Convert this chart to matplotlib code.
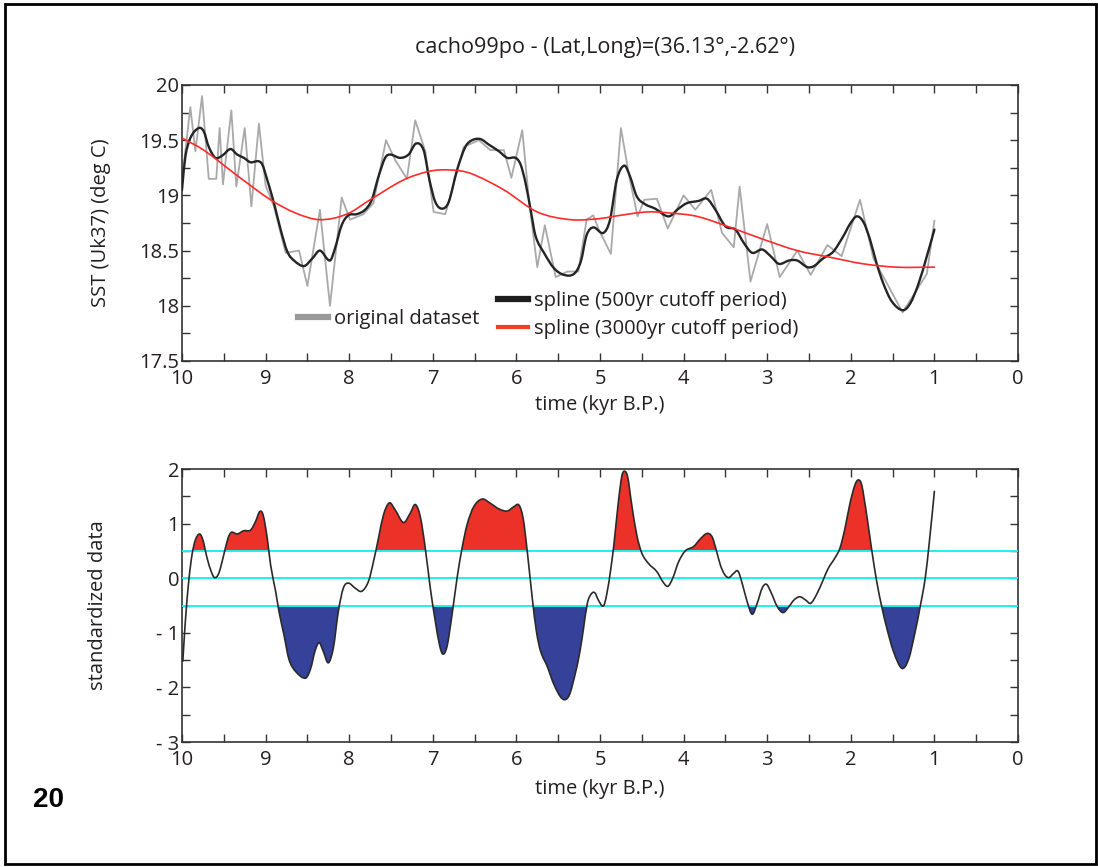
import matplotlib
matplotlib.use("Agg")
import matplotlib.pyplot as plt
from matplotlib.lines import Line2D
from matplotlib.patches import Rectangle, PathPatch
from matplotlib.path import Path
from matplotlib.ticker import MultipleLocator, FixedLocator, FixedFormatter
import numpy as np

plt.rcParams['font.family'] = ['Open Sans', 'DejaVu Sans']

# ---- SST record (core cacho99po) ----
orig_age = [10.00, 9.90, 9.84, 9.76, 9.68, 9.59, 9.55, 9.51, 9.41, 9.35, 9.25, 9.17,
            9.08, 9.00, 8.90, 8.76, 8.60, 8.50, 8.35, 8.23, 8.09, 7.99, 7.83, 7.71,
            7.56, 7.45, 7.31, 7.21, 7.09, 6.99, 6.85, 6.63, 6.45, 6.31, 6.15, 6.06,
            5.93, 5.85, 5.75, 5.66, 5.53, 5.39, 5.26, 5.16, 5.08, 5.02, 4.87, 4.75,
            4.65, 4.55, 4.47, 4.32, 4.19, 4.00, 3.86, 3.67, 3.54, 3.40, 3.33, 3.20,
            3.00, 2.85, 2.64, 2.48, 2.28, 2.11, 1.89, 1.73, 1.38, 1.09, 1.00]
orig_sst = [19.14, 19.80, 19.40, 19.90, 19.15, 19.15, 19.61, 19.10, 19.77, 19.08, 19.61, 18.90,
            19.65, 19.09, 18.90, 18.48, 18.50, 18.18, 18.87, 18.00, 18.98, 18.78, 18.83, 18.93,
            19.50, 19.32, 19.15, 19.68, 19.40, 18.85, 18.83, 19.44, 19.50, 19.41, 19.41, 19.16,
            19.59, 18.96, 18.35, 18.73, 18.26, 18.31, 18.31, 18.78, 18.82, 18.70, 18.47, 19.61,
            19.17, 18.81, 18.96, 18.97, 18.70, 19.00, 18.87, 19.05, 18.66, 18.53, 19.08, 18.22,
            18.74, 18.26, 18.50, 18.28, 18.55, 18.45, 18.96, 18.43, 17.94, 18.29, 18.77]

# spline, 500 yr cutoff
s500_age = [10.00, 9.96, 9.90, 9.80, 9.74, 9.68, 9.60, 9.52, 9.42, 9.34, 9.26, 9.18,
            9.09, 9.04, 8.98, 8.90, 8.82, 8.74, 8.66, 8.54, 8.44, 8.35, 8.23, 8.17,
            8.09, 8.01, 7.91, 7.81, 7.73, 7.65, 7.57, 7.51, 7.39, 7.29, 7.20, 7.11,
            7.04, 6.97, 6.89, 6.81, 6.71, 6.61, 6.53, 6.43, 6.33, 6.21, 6.11, 6.01,
            5.95, 5.89, 5.83, 5.77, 5.67, 5.55, 5.43, 5.31, 5.23, 5.16, 5.08, 4.96,
            4.88, 4.80, 4.71, 4.64, 4.56, 4.46, 4.34, 4.18, 4.06, 3.96, 3.82, 3.72,
            3.62, 3.50, 3.38, 3.28, 3.18, 3.06, 2.96, 2.86, 2.74, 2.64, 2.52, 2.44,
            2.33, 2.21, 2.09, 2.01, 1.93, 1.85, 1.77, 1.69, 1.61, 1.51, 1.38, 1.29,
            1.19, 1.09, 1.00]
s500_sst = [19.05, 19.35, 19.52, 19.61, 19.58, 19.44, 19.34, 19.36, 19.42, 19.37, 19.34, 19.30,
            19.31, 19.28, 19.14, 18.93, 18.69, 18.49, 18.41, 18.36, 18.43, 18.50, 18.41, 18.52,
            18.73, 18.82, 18.83, 18.87, 18.96, 19.17, 19.34, 19.37, 19.34, 19.37, 19.47, 19.41,
            19.14, 18.94, 18.88, 18.94, 19.23, 19.44, 19.50, 19.51, 19.46, 19.40, 19.34, 19.34,
            19.28, 19.11, 18.87, 18.63, 18.48, 18.34, 18.28, 18.29, 18.40, 18.64, 18.71, 18.66,
            18.78, 19.14, 19.27, 19.17, 18.99, 18.92, 18.88, 18.81, 18.88, 18.93, 18.95, 18.97,
            18.87, 18.72, 18.69, 18.57, 18.48, 18.51, 18.45, 18.38, 18.41, 18.41, 18.35, 18.36,
            18.43, 18.49, 18.63, 18.74, 18.81, 18.76, 18.60, 18.38, 18.20, 18.04, 17.96, 18.02,
            18.20, 18.45, 18.69]

# spline, 3000 yr cutoff
s3000_age = [10.00, 9.74, 9.34, 8.94, 8.64, 8.35, 8.03, 7.75, 7.35, 7.03, 6.79, 6.55,
             6.15, 5.75, 5.35, 5.00, 4.84, 4.44, 4.16, 3.84, 3.44, 3.04, 2.64, 2.25,
             1.85, 1.45, 1.00]
s3000_sst = [19.52, 19.41, 19.18, 18.96, 18.84, 18.78, 18.83, 18.96, 19.14, 19.22, 19.23, 19.20,
             19.05, 18.85, 18.78, 18.79, 18.81, 18.85, 18.84, 18.81, 18.71, 18.60, 18.50, 18.44,
             18.38, 18.35, 18.35]

# standardized anomaly series
std_age = [9.99, 9.96, 9.92, 9.88, 9.84, 9.79, 9.75, 9.70, 9.65, 9.61, 9.56, 9.50,
           9.45, 9.41, 9.34, 9.26, 9.18, 9.12, 9.07, 9.03, 8.98, 8.94, 8.88, 8.84,
           8.78, 8.72, 8.64, 8.52, 8.46, 8.41, 8.36, 8.31, 8.25, 8.19, 8.13, 8.07,
           8.01, 7.93, 7.85, 7.77, 7.71, 7.65, 7.59, 7.52, 7.45, 7.35, 7.27, 7.21,
           7.15, 7.09, 7.03, 6.97, 6.92, 6.88, 6.83, 6.77, 6.71, 6.65, 6.59, 6.51,
           6.41, 6.31, 6.21, 6.11, 6.03, 5.97, 5.92, 5.87, 5.81, 5.76, 5.71, 5.63,
           5.55, 5.45, 5.37, 5.29, 5.24, 5.20, 5.15, 5.10, 5.06, 5.02, 4.96, 4.92,
           4.87, 4.83, 4.78, 4.74, 4.71, 4.67, 4.62, 4.56, 4.50, 4.42, 4.32, 4.25,
           4.19, 4.13, 4.06, 3.98, 3.88, 3.80, 3.72, 3.66, 3.61, 3.56, 3.51, 3.46,
           3.40, 3.35, 3.30, 3.24, 3.18, 3.12, 3.06, 3.01, 2.96, 2.88, 2.81, 2.74,
           2.68, 2.61, 2.54, 2.48, 2.41, 2.33, 2.27, 2.19, 2.13, 2.07, 2.01, 1.95,
           1.91, 1.87, 1.81, 1.75, 1.69, 1.63, 1.57, 1.49, 1.39, 1.31, 1.23, 1.17,
           1.11, 1.06, 1.00]
std_val = [-1.52, -0.79, -0.06, 0.43, 0.70, 0.81, 0.70, 0.37, 0.12, 0.01, 0.09, 0.43,
           0.73, 0.84, 0.81, 0.87, 0.88, 1.04, 1.22, 1.16, 0.73, 0.24, -0.24, -0.61,
           -1.04, -1.49, -1.71, -1.83, -1.65, -1.34, -1.18, -1.34, -1.55, -1.28, -0.61, -0.18,
           -0.09, -0.18, -0.24, -0.06, 0.30, 0.73, 1.16, 1.38, 1.25, 1.02, 1.19, 1.35,
           1.13, 0.55, -0.18, -0.79, -1.22, -1.39, -1.25, -0.67, 0.00, 0.55, 0.98, 1.31,
           1.45, 1.37, 1.27, 1.23, 1.31, 1.34, 1.10, 0.49, -0.37, -0.98, -1.34, -1.62,
           -1.95, -2.21, -2.15, -1.71, -1.34, -0.95, -0.45, -0.28, -0.27, -0.40, -0.51, -0.30,
           0.18, 0.67, 1.40, 1.86, 1.96, 1.86, 1.34, 0.79, 0.46, 0.27, 0.12, -0.06,
           -0.15, 0.00, 0.30, 0.50, 0.58, 0.72, 0.82, 0.76, 0.52, 0.24, 0.07, 0.01,
           0.09, 0.13, -0.09, -0.43, -0.66, -0.46, -0.18, -0.11, -0.24, -0.52, -0.63, -0.52,
           -0.40, -0.34, -0.40, -0.46, -0.30, -0.03, 0.18, 0.37, 0.55, 0.91, 1.37, 1.71,
           1.80, 1.71, 1.16, 0.52, -0.06, -0.52, -0.91, -1.34, -1.65, -1.49, -0.98, -0.52,
           0.00, 0.67, 1.59]

thresholds = [0.5, 0.0, -0.5]

title_text = "cacho99po - (Lat,Long)=(36.13\u00b0,-2.62\u00b0)"
xticks = [10, 9, 8, 7, 6, 5, 4, 3, 2, 1, 0]
top_yticks = [17.5, 18, 18.5, 19, 19.5, 20]
top_ylabels = ["17.5", "18", "18.5", "19", "19.5", "20"]
bot_yticks = [-3, -2, -1, 0, 1, 2]
bot_ylabels = ["- 3", "- 2", "- 1", "0", "1", "2"]

TXT = '#231f20'
FS_TICK = 14.5
FS_LAB = 14.5
FS_LEG = 14.5
FS_TITLE = 15.5

W, H = 1098, 867
fig = plt.figure(figsize=(W / 100, H / 100), dpi=100)


def px_axes(left, top, right, bottom):
    return fig.add_axes([left / W, 1 - bottom / H, (right - left) / W, (bottom - top) / H])


def hermite_path(xs, ys):
    """Smooth Bezier path passing through every (x, y) sample."""
    x = np.asarray(xs, float)
    y = np.asarray(ys, float)
    n = len(x)
    m = np.empty(n)
    m[1:-1] = (y[2:] - y[:-2]) / (x[2:] - x[:-2])
    m[0] = (y[1] - y[0]) / (x[1] - x[0])
    m[-1] = (y[-1] - y[-2]) / (x[-1] - x[-2])
    verts = [(x[0], y[0])]
    codes = [Path.MOVETO]
    for i in range(n - 1):
        h = x[i + 1] - x[i]
        verts += [(x[i] + h / 3, y[i] + m[i] * h / 3),
                  (x[i + 1] - h / 3, y[i + 1] - m[i + 1] * h / 3),
                  (x[i + 1], y[i + 1])]
        codes += [Path.CURVE4] * 3
    return verts, codes


def smooth_line(ax, xs, ys, **kw):
    verts, codes = hermite_path(xs, ys)
    ax.add_patch(PathPatch(Path(verts, codes), fill=False, capstyle='round',
                           joinstyle='round', **kw))


def band_fill(ax, xs, ys, thr, above, color):
    """Fill the excursions beyond thr, skipping runs that touch the record ends."""
    x = np.asarray(xs, float)
    y = np.asarray(ys, float)
    beyond = y >= thr if above else y <= thr
    inside = np.where(~beyond)[0]
    x_from = x[inside[0]] if beyond[0] else x[0]
    x_to = x[inside[-1]] if beyond[-1] else x[-1]
    verts, codes = hermite_path(x, y)
    verts += [(x[-1], thr), (x[0], thr), (x[0], y[0])]
    codes += [Path.LINETO, Path.LINETO, Path.CLOSEPOLY]
    patch = PathPatch(Path(verts, codes), facecolor=color, edgecolor='none', zorder=2)
    ax.add_patch(patch)
    lo, hi = min(x_from, x_to), max(x_from, x_to)
    y0 = thr if above else thr - 10
    clip = Rectangle((lo, y0), hi - lo, 10, transform=ax.transData)
    patch.set_clip_path(clip)


ax1 = px_axes(182, 85, 1018, 361)
ax2 = px_axes(182, 469, 1018, 742)


def style(ax, minor_y):
    ax.set_xlim(10, 0)
    ax.xaxis.set_major_locator(FixedLocator(xticks))
    ax.xaxis.set_minor_locator(MultipleLocator(0.5))
    ax.yaxis.set_minor_locator(MultipleLocator(minor_y))
    ax.tick_params(which='both', direction='in', top=True, right=True,
                   length=6, width=1.0, color='#333333')
    ax.tick_params(axis='both', which='major', labelsize=FS_TICK, labelcolor=TXT)
    ax.tick_params(axis='x', which='major', pad=6)
    ax.tick_params(axis='y', which='major', pad=2)
    for sp in ax.spines.values():
        sp.set_linewidth(1.2)
        sp.set_color('#333333')


# ---- top panel: SST ----
style(ax1, 0.25)
ax1.set_ylim(17.5, 20)
ax1.yaxis.set_major_locator(FixedLocator(top_yticks))
ax1.yaxis.set_major_formatter(FixedFormatter(top_ylabels))
ax1.plot(orig_age, orig_sst, color='#a9a9a9', lw=1.3, zorder=2)
smooth_line(ax1, s500_age, s500_sst, edgecolor='#242424', lw=1.7, zorder=3)
smooth_line(ax1, s3000_age, s3000_sst, edgecolor='#ff2a2a', lw=1.2, zorder=4)
ax1.set_xlabel("time (kyr B.P.)", fontsize=FS_LAB, color=TXT)
ax1.set_ylabel("SST (Uk37) (deg C)", fontsize=FS_LAB, color=TXT)
ax1.xaxis.set_label_coords(0.5, -0.122)
ax1.yaxis.set_label_coords(-0.085, 0.5)

h_orig = Line2D([], [], color='#999999', lw=4.5)
h_500 = Line2D([], [], color='#1e1e1e', lw=4.5)
h_3000 = Line2D([], [], color='#f04020', lw=3)
leg1 = ax1.legend([h_orig], ["original dataset"], loc='center left',
                  bbox_to_anchor=((298 - 182) / 836, (361 - 319) / 276),
                  frameon=False, fontsize=FS_LEG, handlelength=1.5, handletextpad=0.3,
                  borderaxespad=0, borderpad=0)
for t in leg1.get_texts():
    t.set_color(TXT)
ax1.add_artist(leg1)
leg2 = ax1.legend([h_500, h_3000], ["spline (500yr cutoff period)", "spline (3000yr cutoff period)"],
                  loc='center left', bbox_to_anchor=((498 - 182) / 836, (361 - 315) / 276),
                  frameon=False, fontsize=FS_LEG, handlelength=1.5, handletextpad=0.3,
                  labelspacing=0.4, borderaxespad=0, borderpad=0)
for t in leg2.get_texts():
    t.set_color(TXT)

# ---- bottom panel: standardized anomalies ----
style(ax2, 0.5)
ax2.set_ylim(-3, 2)
ax2.yaxis.set_major_locator(FixedLocator(bot_yticks))
ax2.yaxis.set_major_formatter(FixedFormatter(bot_ylabels))
band_fill(ax2, std_age, std_val, thresholds[0], True, '#ec3128')
band_fill(ax2, std_age, std_val, thresholds[2], False, '#36419a')
for t in thresholds:
    ax2.axhline(t, color='#1ef0f0', lw=1.4, zorder=3)
smooth_line(ax2, std_age, std_val, edgecolor='#2a2a2a', lw=1.2, zorder=4)
ax2.set_xlabel("time (kyr B.P.)", fontsize=FS_LAB, color=TXT)
ax2.set_ylabel("standardized data", fontsize=FS_LAB, color=TXT)
ax2.xaxis.set_label_coords(0.5, -0.137)
ax2.yaxis.set_label_coords(-0.088, 0.5)

# ---- title, page number, frame ----
fig.text(605 / W, 1 - 47 / H, title_text, ha='center', va='center', fontsize=FS_TITLE, color=TXT)
fig.text(33 / W, 1 - 800 / H, "20", ha='left', va='center', fontsize=20,
         fontweight='bold', family=['Liberation Sans', 'DejaVu Sans'], color='black')
fig.patches.append(Rectangle((5 / W, 1 - 864 / H), 1091 / W, 860 / H, transform=fig.transFigure,
                             fill=False, edgecolor='black', lw=2))

fig.savefig("out.png", dpi=100, facecolor='white')
